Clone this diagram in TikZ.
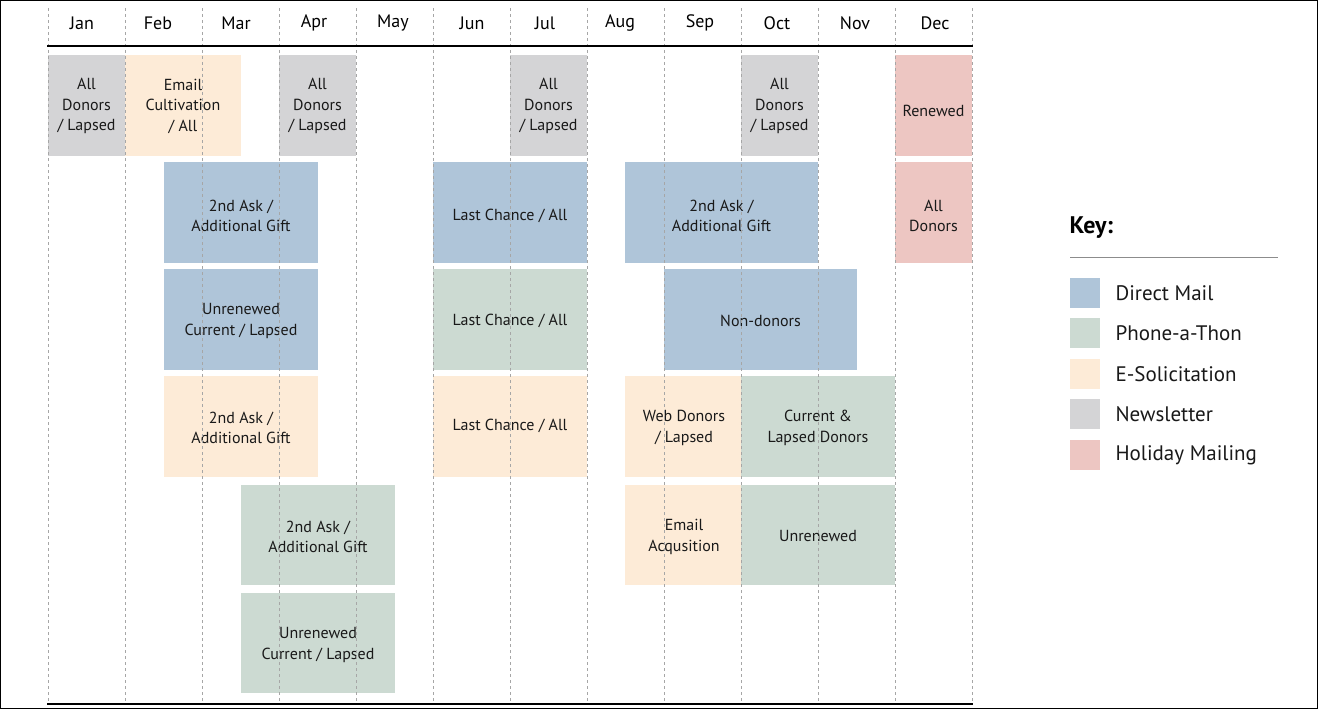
\documentclass[tikz,border=0pt]{standalone}
\usepackage{fontspec}
\setmainfont{PT Sans}
\definecolor{dm}{HTML}{AFC5D9}
\definecolor{ph}{HTML}{CCDAD2}
\definecolor{es}{HTML}{FDEBD7}
\definecolor{nl}{HTML}{D4D4D6}
\definecolor{hm}{HTML}{EDC6C2}
\begin{document}
\begin{tikzpicture}[x=1pt,y=-1pt,
  bx/.style={inner sep=0pt,align=center,font=\fontsize{16}{20.5}\selectfont,text=black!90},
  mon/.style={font=\fontsize{18}{20}\selectfont},
  keyl/.style={anchor=west,font=\fontsize{21}{24}\selectfont,text=black!90}]
\useasboundingbox (0,0) rectangle (1318,709);
\draw[black] (0.5,0.5) rectangle (1317.5,708.5);
\fill[nl] (48,55) rectangle (125,156); \node[bx] (b1) at (86.5,106) {All\\Donors\\/ Lapsed};
\fill[es] (125,55) rectangle (241,156); \node[bx] (b2) at (183,106) {Email\\Cultivation\\/ All};
\fill[nl] (279,55) rectangle (356,156); \node[bx] (b3) at (317.5,106) {All\\Donors\\/ Lapsed};
\fill[nl] (510,55) rectangle (587,156); \node[bx] (b4) at (548.5,106) {All\\Donors\\/ Lapsed};
\fill[nl] (741,55) rectangle (818,156); \node[bx] (b5) at (779.5,106) {All\\Donors\\/ Lapsed};
\fill[hm] (895,55) rectangle (972,156); \node[bx] (b6) at (933.5,111) {Renewed};
\fill[dm] (164,162) rectangle (318,263); \node[bx] (c1) at (241,216) {2nd Ask /\\Additional Gift};
\fill[dm] (433,162) rectangle (587,263); \node[bx] (c2) at (510,216) {Last Chance / All};
\fill[dm] (625,162) rectangle (818,263); \node[bx] (c3) at (721.5,216) {2nd Ask /\\Additional Gift};
\fill[hm] (895,162) rectangle (972,263); \node[bx] (c4) at (933.5,216) {All\\Donors};
\fill[dm] (164,269) rectangle (318,370); \node[bx] (d1) at (241,321) {Unrenewed\\Current / Lapsed};
\fill[ph] (433,269) rectangle (587,370); \node[bx] (d2) at (510,321) {Last Chance / All};
\fill[dm] (664,269) rectangle (857,370); \node[bx] (d3) at (760.5,321) {Non-donors};
\fill[es] (164,376) rectangle (318,477); \node[bx] (e1) at (241,428) {2nd Ask /\\Additional Gift};
\fill[es] (433,376) rectangle (587,477); \node[bx] (e2) at (510,426) {Last Chance / All};
\fill[es] (625,376) rectangle (741,477); \node[bx] (e3) at (684,428) {Web Donors\\/ Lapsed};
\fill[ph] (741,376) rectangle (895,477); \node[bx] (e4) at (818,428) {Current \&\\Lapsed Donors};
\fill[ph] (241,485) rectangle (395,585); \node[bx] (f1) at (318,537) {2nd Ask /\\Additional Gift};
\fill[es] (625,485) rectangle (741,585); \node[bx] (f2) at (684,537) {Email\\Acqusition};
\fill[ph] (741,485) rectangle (895,585); \node[bx] (f3) at (818,536) {Unrenewed};
\fill[ph] (241,593) rectangle (395,693); \node[bx] (g1) at (318,645) {Unrenewed\\Current / Lapsed};
\foreach \i in {0,...,12} \draw[black!35,dashed,line width=0.9pt] ({48+77*\i},8) -- ({48+77*\i},704);
\draw[line width=2.5pt] (47,46) -- (973,46);
\draw[line width=2.5pt] (47,704) -- (973,704);
\foreach \m/\x [count=\i from 0] in {Jan/82,Feb/158,Mar/236,Apr/314,May/393,Jun/472,Jul/545,Aug/620,Sep/700,Oct/777,Nov/855,Dec/935}
  \node[mon] (m\i) at (\x,23) {\m};
\node[anchor=west,font=\bfseries\fontsize{24}{26}\selectfont] (key) at (1066,228) {Key:};
\draw[black!45] (1070,257) -- (1278,257);
\foreach \c/\t/\y [count=\i] in {dm/Direct Mail/293,ph/Phone-a-Thon/333,es/E-Solicitation/374,nl/Newsletter/414,hm/Holiday Mailing/455}{
  \fill[\c] (1070,\y-15) rectangle (1100,\y+15);
  \node[keyl] (k\i) at (1112,\y) {\t};}
\end{tikzpicture}
\end{document}
